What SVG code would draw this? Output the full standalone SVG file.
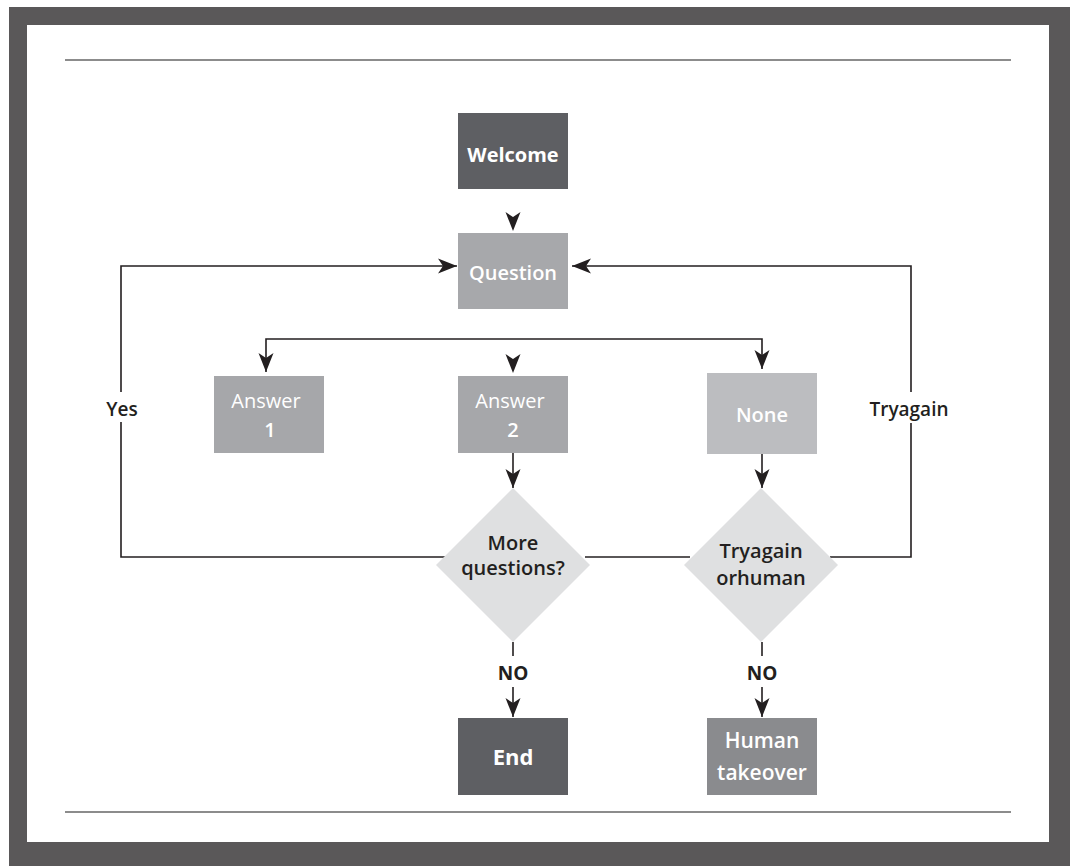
<svg xmlns="http://www.w3.org/2000/svg" width="1070" height="866" viewBox="0 0 1070 866">
<defs>
<style>
text{font-family:"Open Sans","DejaVu Sans",sans-serif;text-anchor:middle}
.w{fill:#ffffff}
.d{fill:#231f20}
.b{font-weight:700}
.s{font-weight:600}
.c{fill:none;stroke:#231f20;stroke-width:1.6}
.rule{stroke:#8c8c8c;stroke-width:2}
.dia{fill:#dfe0e1}
</style>
<marker id="ah" markerUnits="userSpaceOnUse" markerWidth="22" markerHeight="18" viewBox="-20 -9 22 18" refX="0" refY="0" orient="auto">
<path d="M0,0 L-19,-7.5 L-14,0 L-19,7.5 Z" fill="#231f20"/>
</marker>
</defs>
<rect x="0" y="0" width="1070" height="866" fill="#ffffff"/>
<path d="M9,7 H1070 V866 H9 Z M27,25 V842 H1049 V25 Z" fill="#5a5859" fill-rule="evenodd"/>
<line class="rule" x1="65" y1="60" x2="1011" y2="60"/>
<line class="rule" x1="65" y1="812" x2="1011" y2="812"/>

<g id="connectors">
<path class="c" d="M121,392 V266 H457" marker-end="url(#ah)"/>
<path class="c" d="M121,422 V557 H445"/>
<path class="c" d="M911,392 V266 H572" marker-end="url(#ah)"/>
<path class="c" d="M911,423 V557 H830"/>
<path class="c" d="M585,557 H690"/>
<path class="c" d="M513,339 H266 V372" marker-end="url(#ah)"/>
<path class="c" d="M513,339 H762 V369" marker-end="url(#ah)"/>
<path d="M513,231 L505.5,212 L513,217 L520.5,212 Z" fill="#231f20"/>
<path d="M513,373 L505.5,354 L513,359 L520.5,354 Z" fill="#231f20"/>
<path class="c" d="M513,453 V488" marker-end="url(#ah)"/>
<path class="c" d="M762,454 V488" marker-end="url(#ah)"/>
<path class="c" d="M513,642 V656"/>
<path class="c" d="M513,687 V717" marker-end="url(#ah)"/>
<path class="c" d="M762,642 V656"/>
<path class="c" d="M762,687 V717" marker-end="url(#ah)"/>
<text class="d s" x="122" y="416" font-size="19">Yes</text>
<text class="d s" x="909" y="416" font-size="19">Tryagain</text>
<text class="d b" x="513" y="680" font-size="19">NO</text>
<text class="d b" x="762" y="680" font-size="19">NO</text>
</g>

<g id="welcome">
<rect x="458" y="113" width="110" height="76" fill="#5e5f63"/>
<text class="w b" x="513" y="162" font-size="20">Welcome</text>
</g>
<g id="question">
<rect x="458" y="233" width="110" height="76" fill="#a7a8ab"/>
<text class="w s" x="513" y="280" font-size="20">Question</text>
</g>
<g id="answer1">
<rect x="214" y="376" width="110" height="77" fill="#a6a7aa"/>
<text class="w" x="266" y="408" font-size="20">Answer</text>
<text class="w s" x="270" y="437" font-size="20">1</text>
</g>
<g id="answer2">
<rect x="458" y="376" width="110" height="77" fill="#a6a7aa"/>
<text class="w" x="510" y="408" font-size="20">Answer</text>
<text class="w s" x="513" y="437" font-size="20">2</text>
</g>
<g id="none">
<rect x="707" y="373" width="110" height="81" fill="#bcbdc0"/>
<text class="w s" x="762" y="422" font-size="20">None</text>
</g>
<g id="more-questions">
<polygon class="dia" points="513,488 590,565 513,642 436,565"/>
<text class="d s" x="513" y="550" font-size="20">More</text>
<text class="d s" x="513" y="575" font-size="20">questions?</text>
</g>
<g id="try-again">
<polygon class="dia" points="761,488 838,565 761,642 684,565"/>
<text class="d s" x="761" y="558" font-size="20">Tryagain</text>
<text class="d s" x="761" y="585" font-size="20">orhuman</text>
</g>
<g id="end">
<rect x="458" y="718" width="110" height="77" fill="#5e5f63"/>
<text class="w b" x="513" y="765" font-size="22">End</text>
</g>
<g id="human-takeover">
<rect x="707" y="718" width="110" height="77" fill="#8a8b8e"/>
<text class="w s" x="762" y="748" font-size="21">Human</text>
<text class="w s" x="762" y="780" font-size="21">takeover</text>
</g>
</svg>
